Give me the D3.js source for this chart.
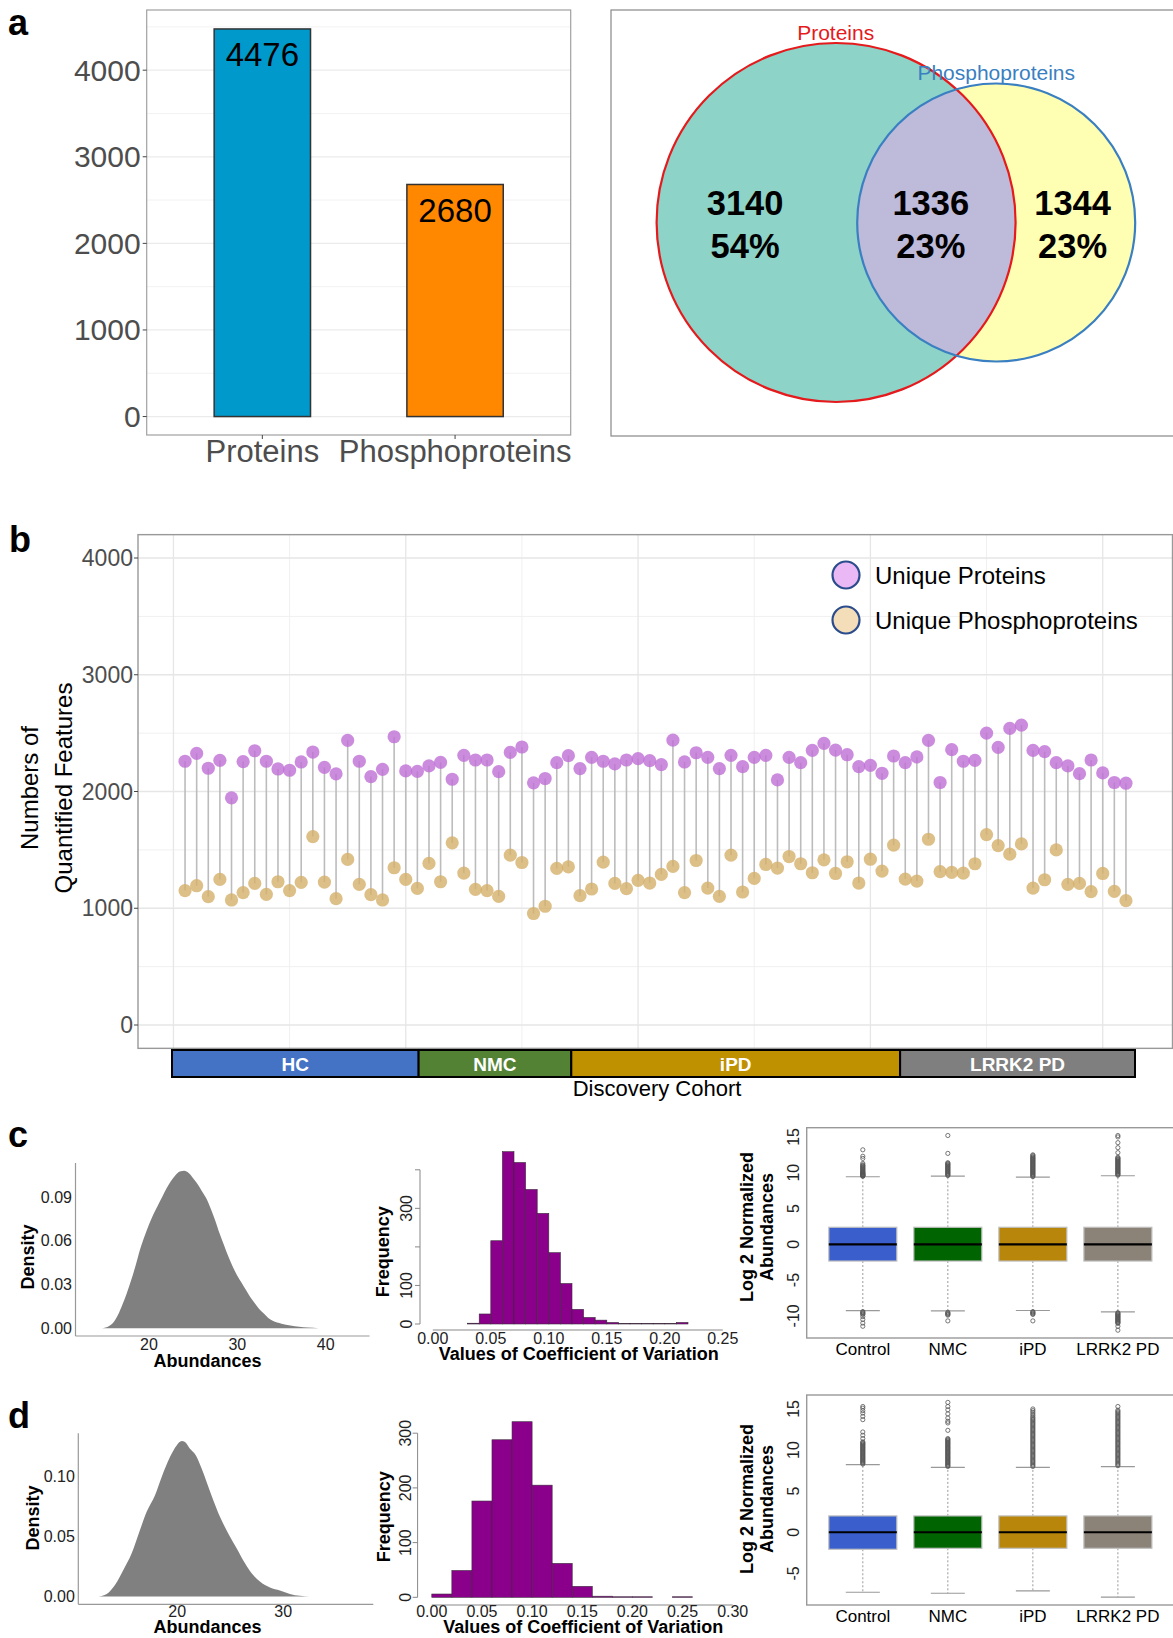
<!DOCTYPE html>
<html><head><meta charset="utf-8">
<script src="https://cdn.jsdelivr.net/npm/d3@7"></script>
<style>
body{margin:0;background:#fff}
svg{display:block}
text{font-family:"Liberation Sans",Arial,Helvetica,sans-serif}
</style>
</head><body>
<svg id="fig" width="1173" height="1638"></svg>
<script>
// ---------------- DATA ----------------
const barCategories = ["Proteins", "Phosphoproteins"];
const barValues = [4476, 2680];
const barTicks = [0, 1000, 2000, 3000, 4000];

const vennSetNames = ["Proteins", "Phosphoproteins"];
const vennCounts = [3140, 1336, 1344];
const vennPercents = ["54%", "23%", "23%"];

const proteinCounts = [2259,2327,2199,2267,1946,2256,2349,2259,2193,2182,
  2253,2338,2207,2151,2438,2259,2128,2190,2469,2176,
  2173,2219,2250,2105,2310,2270,2270,2170,2335,2381,
  2074,2111,2247,2307,2196,2293,2259,2236,2270,2281,
  2264,2230,2440,2253,2332,2293,2196,2310,2213,2293,
  2310,2099,2293,2247,2352,2412,2355,2315,2213,2224,
  2156,2304,2247,2296,2438,2077,2358,2259,2267,2500,
  2378,2540,2568,2352,2341,2247,2219,2153,2270,2159,
  2077,2071];
const phosphoCounts = [1151,1193,1099,1247,1071,1134,1213,1119,1227,1151,
  1222,1614,1224,1082,1418,1205,1116,1071,1347,1247,
  1170,1384,1227,1560,1301,1162,1151,1102,1455,1392,
  955,1017,1341,1355,1108,1165,1395,1213,1168,1239,
  1216,1290,1358,1134,1409,1173,1102,1455,1139,1256,
  1375,1344,1443,1381,1304,1415,1298,1398,1216,1420,
  1318,1540,1250,1233,1591,1313,1307,1301,1381,1631,
  1537,1463,1551,1173,1244,1500,1205,1213,1142,1298,
  1145,1065];
const featureTicks = [0, 1000, 2000, 3000, 4000];
const seriesNames = ["Unique Proteins", "Unique Phosphoproteins"];
const cohortGroups = ["HC", "NMC", "iPD", "LRRK2 PD"];
const cohortSizes = [21, 13, 28, 20];

// panel c density (abundance, density)
const densCx = [14.7,15.5,16,16.5,17,17.5,18,18.5,19,19.5,20,20.5,21,21.5,22,22.5,23,23.5,24,24.5,25,25.5,26,26.5,27,27.5,28,28.5,29,29.5,30,30.5,31,31.5,32,32.5,33,33.5,34,35,36,37,38,39.2];
const densCy = [0,0.0015,0.004,0.009,0.016,0.024,0.033,0.043,0.054,0.063,0.071,0.078,0.084,0.090,0.096,0.101,0.105,0.1075,0.108,0.1065,0.103,0.099,0.094,0.089,0.082,0.074,0.065,0.057,0.049,0.042,0.036,0.031,0.026,0.021,0.017,0.013,0.010,0.007,0.005,0.003,0.0018,0.001,0.0004,0];
const densCyTicks = [0, 0.03, 0.06, 0.09];
const densCxTicks = [20, 30, 40];

// panel d density
const densDx = [12.55,13.34,14.12,14.91,15.70,16.48,17.11,17.90,18.53,19.31,19.94,20.42,20.73,21.2,21.76,22.30,22.77,23.40,24.03,24.81,25.60,26.39,27.02,27.80,28.75,29.69,30.63,31.57,32.5,33.77,36.3];
const densDy = [0,0.0022,0.0097,0.0222,0.0361,0.0556,0.0708,0.0847,0.1,0.1167,0.1264,0.13,0.1292,0.1236,0.118,0.107,0.0958,0.0806,0.0667,0.0528,0.0403,0.0278,0.0194,0.0125,0.0075,0.005,0.0022,0.0006,0.0001,0,0];
const densDyTicks = [0, 0.05, 0.10];
const densDxTicks = [20, 30];

// panel c histogram of CV (bin starts, width 0.01)
const histCStarts = [0.03,0.04,0.05,0.06,0.07,0.08,0.09,0.10,0.11,0.12,0.13,0.14,0.15,0.16,0.17,0.18,0.19,0.20,0.21];
const histCCounts = [2,26,216,447,419,349,287,185,105,38,17,10,4,1,1,1,1,1,4];
const histCBinWidth = 0.01;
const histCxTicks = [0,0.05,0.10,0.15,0.20,0.25];
const histCyTicks = [0,100,200,300,400];
const histCyLabels = [0,100,300];

// panel d histogram of CV (bin starts, width 0.02)
const histDStarts = [0,0.02,0.04,0.06,0.08,0.10,0.12,0.14,0.16,0.18,0.20,0.22,0.24];
const histDCounts = [6,49,176,288,321,205,62,20,2,1,1,0,1];
const histDBinWidth = 0.02;
const histDxTicks = [0,0.05,0.10,0.15,0.20,0.25,0.30];
const histDyTicks = [0,100,200,300];

// boxplots
const boxGroups = ["Control", "NMC", "iPD", "LRRK2 PD"];
const boxColors = ["#3a5fcd", "#006400", "#b8860b", "#8b8378"];
// [lower whisker, Q1, median, Q3, upper whisker]
const boxStatsC = [[-9.26,-2.34,0,2.38,9.44],[-9.3,-2.34,0,2.38,9.53],[-9.25,-2.34,0,2.38,9.39],[-9.44,-2.34,0,2.38,9.58]];
const boxStatsD = [[-7.3,-2.07,0,1.99,8.23],[-7.42,-1.95,0,1.99,7.9],[-7.14,-1.95,0,1.99,7.9],[-7.9,-1.95,0,1.99,7.99]];
const boxCyTicks = [-10,-5,0,5,10,15];
const boxDyTicks = [-5,0,5,10,15];
const outliersC = [
  [9.5,9.55,9.6,9.65,9.7,9.75,9.8,9.85,9.9,10.0,10.05,10.1,10.2,10.3,10.4,10.5,10.6,10.7,10.8,10.9,11.0,11.1,11.3,12.0,12.3,13.2,-9.4,-9.5,-9.6,-9.7,-9.8,-10.1,-10.5,-11.0,-11.45],
  [9.6,9.7,9.8,9.9,10.0,10.1,10.2,10.3,10.4,10.5,10.6,10.7,10.8,10.9,11.0,11.1,11.2,11.3,11.4,12.7,15.2,-9.5,-9.6,-9.7,-9.8,-9.9,-10.7],
  [9.45,9.55,9.65,9.75,9.85,9.95,10.05,10.15,10.25,10.35,10.45,10.55,10.65,10.75,10.85,10.95,11.05,11.15,11.25,11.35,11.45,11.55,11.65,11.75,11.85,11.95,12.05,12.15,12.25,12.4,12.5,-9.4,-9.5,-9.6,-9.7,-9.8,-10.7],
  [9.65,9.75,9.85,9.95,10.05,10.15,10.25,10.35,10.45,10.55,10.65,10.75,10.85,10.95,11.05,11.15,11.25,11.35,11.45,11.55,11.65,11.75,11.85,11.95,12.05,12.15,12.8,13.5,14.2,15.0,15.2,-9.55,-9.65,-9.75,-9.85,-9.95,-10.05,-10.15,-10.25,-10.35,-10.45,-10.55,-10.65,-10.75,-10.85,-10.95,-11.05,-11.45,-12.0]
];
const outliersD = [
  [8.3,8.4,8.5,8.6,8.7,8.8,8.9,9.0,9.1,9.2,9.3,9.4,9.5,9.6,9.7,9.8,9.9,10.0,10.1,10.2,10.3,10.4,10.5,10.6,10.7,10.8,10.9,11.0,11.4,11.8,12.2,13.7,14.1,14.5,14.8,15.1,15.3],
  [8.0,8.1,8.2,8.3,8.4,8.5,8.6,8.7,8.8,8.9,9.0,9.1,9.2,9.3,9.4,9.5,9.6,9.7,9.8,9.9,10.0,10.1,10.2,10.3,10.4,10.5,10.6,10.7,10.8,10.9,11.0,11.1,11.2,11.3,11.4,12.4,13.3,13.5,13.9,14.4,14.9,15.3,15.8],
  [8.0,8.15,8.3,8.45,8.6,8.75,8.9,9.05,9.2,9.35,9.5,9.65,9.8,9.95,10.1,10.25,10.4,10.55,10.7,10.85,11.0,11.15,11.3,11.45,11.6,11.75,11.9,12.05,12.2,12.35,12.5,12.65,12.8,12.95,13.1,13.25,13.4,13.55,13.7,13.85,14.0,14.2,14.4,14.6,14.8,15.0],
  [8.1,8.25,8.4,8.55,8.7,8.85,9.0,9.15,9.3,9.45,9.6,9.75,9.9,10.05,10.2,10.35,10.5,10.65,10.8,10.95,11.1,11.25,11.4,11.55,11.7,11.85,12.0,12.15,12.3,12.45,12.6,12.75,12.9,13.05,13.2,13.35,13.5,13.65,13.8,13.95,14.1,14.25,14.4,14.55,14.7,14.85,15.3]
];

// ---------------- DRAWING ----------------
const svg = d3.select("#fig");
svg.append("rect").attr("width",1173).attr("height",1638).attr("fill","#fff");

function panelLetter(t, x, y) {
  svg.append("text").attr("x", x).attr("y", y).text(t)
    .attr("font-size", 36).attr("font-weight", "bold").attr("fill", "#000");
}
function vtext(g, x, y, t, size, weight, fill) {
  return g.append("text").attr("transform", `translate(${x},${y}) rotate(-90)`)
    .attr("text-anchor", "middle").attr("dominant-baseline", "central")
    .attr("font-size", size).attr("font-weight", weight || "normal")
    .attr("fill", fill || "#000").text(t);
}

// ===== Panel a: bar chart =====
(function () {
  const g = svg.append("g");
  const L = 146.7, R = 570.7;
  const x = d3.scaleLinear().domain([0.4, 2.6]).range([L, R]);
  const y = d3.scaleLinear().domain([-213, 4695]).range([435, 10]);
  const minor = [500, 1500, 2500, 3500, 4500];
  g.selectAll(".mn").data(minor).join("line")
    .attr("x1", L).attr("x2", R).attr("y1", d => y(d)).attr("y2", d => y(d))
    .attr("stroke", "#f2f2f2").attr("stroke-width", 1);
  g.selectAll(".mj").data(barTicks).join("line")
    .attr("x1", L).attr("x2", R).attr("y1", d => y(d)).attr("y2", d => y(d))
    .attr("stroke", "#ebebeb").attr("stroke-width", 1.3);
  g.selectAll(".bar").data(barValues).join("rect")
    .attr("x", (d, i) => x(i + 1 - 0.25)).attr("width", x(1.25) - x(0.75))
    .attr("y", d => y(d)).attr("height", d => y(0) - y(d))
    .attr("fill", (d, i) => ["#0099cc", "#ff8800"][i]).attr("stroke", "#333").attr("stroke-width", 1.5);
  g.selectAll(".bl").data(barValues).join("text")
    .attr("x", (d, i) => x(i + 1)).attr("y", d => y(d) + 37.5)
    .attr("text-anchor", "middle").attr("font-size", 33).attr("fill", "#000").text(d => d);
  g.append("rect").attr("x", L).attr("y", 10).attr("width", R - L).attr("height", 425)
    .attr("fill", "none").attr("stroke", "#a0a0a0").attr("stroke-width", 1.2);
  g.selectAll(".yt").data(barTicks).join("line")
    .attr("x1", L - 4).attr("x2", L).attr("y1", d => y(d)).attr("y2", d => y(d)).attr("stroke", "#444");
  g.selectAll(".yl").data(barTicks).join("text")
    .attr("x", L - 6).attr("y", d => y(d)).attr("text-anchor", "end").attr("dominant-baseline", "central")
    .attr("font-size", 30).attr("fill", "#4d4d4d").text(d => d);
  g.selectAll(".xt").data(barCategories).join("line")
    .attr("x1", (d, i) => x(i + 1)).attr("x2", (d, i) => x(i + 1)).attr("y1", 435).attr("y2", 439).attr("stroke", "#444");
  g.selectAll(".xl").data(barCategories).join("text")
    .attr("x", (d, i) => x(i + 1)).attr("y", 462).attr("text-anchor", "middle")
    .attr("font-size", 31).attr("fill", "#4d4d4d").text(d => d);
})();
panelLetter("a", 8, 35);

// ===== Panel a: Venn =====
(function () {
  const g = svg.append("g");
  g.append("rect").attr("x", 611).attr("y", 10).attr("width", 600).attr("height", 426)
    .attr("fill", "#fff").attr("stroke", "#888").attr("stroke-width", 1.2);
  const sets = [
    { cx: 836.1, cy: 222.5, r: 179.5, fill: "#8dd3c7", stroke: "#e41a1c" },
    { cx: 996.2, cy: 222.5, r: 139, fill: "#ffffb3", stroke: "#3a7fc1" }
  ];
  const defs = svg.append("defs");
  defs.append("clipPath").attr("id", "clipP").append("circle")
    .attr("cx", sets[0].cx).attr("cy", sets[0].cy).attr("r", sets[0].r);
  g.selectAll(".vf").data(sets).join("circle")
    .attr("cx", d => d.cx).attr("cy", d => d.cy).attr("r", d => d.r)
    .attr("fill", d => d.fill);
  g.append("circle").attr("clip-path", "url(#clipP)")
    .attr("cx", sets[1].cx).attr("cy", sets[1].cy).attr("r", sets[1].r)
    .attr("fill", "#bebada");
  g.selectAll(".vs").data(sets).join("circle")
    .attr("cx", d => d.cx).attr("cy", d => d.cy).attr("r", d => d.r)
    .attr("fill", "none").attr("stroke", d => d.stroke).attr("stroke-width", 2.2);
  const labelPos = [[835.7, 40], [996.2, 80]];
  g.selectAll(".vn").data(vennSetNames).join("text")
    .attr("x", (d, i) => labelPos[i][0]).attr("y", (d, i) => labelPos[i][1])
    .attr("text-anchor", "middle").attr("font-size", 21)
    .attr("fill", (d, i) => sets[i].stroke).text(d => d);
  const cx = [745.1, 930.8, 1072.6];
  g.selectAll(".vc").data(vennCounts).join("text")
    .attr("x", (d, i) => cx[i]).attr("y", 215).attr("text-anchor", "middle")
    .attr("font-size", 34.5).attr("font-weight", "bold").text(d => d);
  g.selectAll(".vp").data(vennPercents).join("text")
    .attr("x", (d, i) => cx[i]).attr("y", 258).attr("text-anchor", "middle")
    .attr("font-size", 34.5).attr("font-weight", "bold").text(d => d);
})();

// ===== Panel b =====
(function () {
  const g = svg.append("g");
  const L = 138, R = 1172.5, T = 534.65, B = 1048.35;
  const x = d3.scaleLinear().domain([-3.05, 86.05]).range([L, 1173]);
  const y = d3.scaleLinear().domain([-200, 4200]).range([B, T]);
  const yMinor = [500, 1500, 2500, 3500];
  const xMajor = [0, 20, 40, 60, 80], xMinor = [10, 30, 50, 70];
  g.selectAll(".hm").data(yMinor).join("line").attr("x1", L).attr("x2", R)
    .attr("y1", d => y(d)).attr("y2", d => y(d)).attr("stroke", "#f0f0f0").attr("stroke-width", 1);
  g.selectAll(".vm").data(xMinor).join("line").attr("y1", T).attr("y2", B)
    .attr("x1", d => x(d)).attr("x2", d => x(d)).attr("stroke", "#f0f0f0").attr("stroke-width", 1);
  g.selectAll(".hM").data(featureTicks).join("line").attr("x1", L).attr("x2", R)
    .attr("y1", d => y(d)).attr("y2", d => y(d)).attr("stroke", "#e6e6e6").attr("stroke-width", 1.3);
  g.selectAll(".vM").data(xMajor).join("line").attr("y1", T).attr("y2", B)
    .attr("x1", d => x(d)).attr("x2", d => x(d)).attr("stroke", "#e6e6e6").attr("stroke-width", 1.3);
  const idx = d3.range(proteinCounts.length);
  g.selectAll(".stem").data(idx).join("line")
    .attr("x1", i => x(i + 1)).attr("x2", i => x(i + 1))
    .attr("y1", i => y(phosphoCounts[i])).attr("y2", i => y(proteinCounts[i]))
    .attr("stroke", "#bcbcbc").attr("stroke-width", 1.6);
  g.selectAll(".pp").data(phosphoCounts).join("circle")
    .attr("cx", (d, i) => x(i + 1)).attr("cy", d => y(d)).attr("r", 6.6)
    .attr("fill", "#d4af6a").attr("fill-opacity", 0.8);
  g.selectAll(".pr").data(proteinCounts).join("circle")
    .attr("cx", (d, i) => x(i + 1)).attr("cy", d => y(d)).attr("r", 6.6)
    .attr("fill", "#bf6fd6").attr("fill-opacity", 0.8);
  g.append("rect").attr("x", L).attr("y", T).attr("width", R - L).attr("height", B - T)
    .attr("fill", "none").attr("stroke", "#999").attr("stroke-width", 1.4);
  g.selectAll(".yt").data(featureTicks).join("line").attr("x1", L - 4).attr("x2", L)
    .attr("y1", d => y(d)).attr("y2", d => y(d)).attr("stroke", "#444");
  g.selectAll(".yl").data(featureTicks).join("text").attr("x", L - 5).attr("y", d => y(d))
    .attr("text-anchor", "end").attr("dominant-baseline", "central")
    .attr("font-size", 23).attr("fill", "#4d4d4d").text(d => d);
  vtext(g, 29, 788, "Numbers of", 24);
  vtext(g, 63, 788, "Quantified Features", 24);
  // legend
  const legFill = ["#eab8f5", "#f3deb9"];
  const legY = [575, 620];
  g.selectAll(".lk").data(seriesNames).join("circle")
    .attr("cx", 846).attr("cy", (d, i) => legY[i]).attr("r", 13.5)
    .attr("fill", (d, i) => legFill[i]).attr("stroke", "#2b4c8c").attr("stroke-width", 2.2);
  g.selectAll(".lt").data(seriesNames).join("text")
    .attr("x", 875).attr("y", (d, i) => legY[i]).attr("dominant-baseline", "central")
    .attr("font-size", 24).attr("fill", "#000").text(d => d);
  // cohort bar
  const total = d3.sum(cohortSizes);
  const xc = d3.scaleLinear().domain([0, total]).range([172, 1135]);
  const starts = d3.cumsum([0].concat(cohortSizes.slice(0, -1)));
  const cColors = ["#4472c4", "#548235", "#bf9000", "#7f7f7f"];
  g.selectAll(".cb").data(cohortGroups).join("rect")
    .attr("x", (d, i) => xc(starts[i])).attr("width", (d, i) => xc(starts[i] + cohortSizes[i]) - xc(starts[i]))
    .attr("y", 1050).attr("height", 27)
    .attr("fill", (d, i) => cColors[i]).attr("stroke", "#000").attr("stroke-width", 2);
  g.selectAll(".ct").data(cohortGroups).join("text")
    .attr("x", (d, i) => xc(starts[i] + cohortSizes[i] / 2)).attr("y", 1064)
    .attr("text-anchor", "middle").attr("dominant-baseline", "central")
    .attr("font-size", 19).attr("font-weight", "bold").attr("fill", "#fff").text(d => d);
  g.append("text").attr("x", 657).attr("y", 1096).attr("text-anchor", "middle")
    .attr("font-size", 22).attr("fill", "#000").text("Discovery Cohort");
})();
panelLetter("b", 9, 552);

// ===== density helper =====
function densityPanel(xs, ys, xDom, xRange, yDom, yRange, yTicks, xTicks, yFmt, xLabY, titleY, densTitle) {
  const g = svg.append("g");
  const x = d3.scaleLinear().domain(xDom).range(xRange);
  const y = d3.scaleLinear().domain(yDom).range(yRange);
  const pts = xs.map((v, i) => [v, ys[i]]);
  const area = d3.area().x(d => x(d[0])).y0(y(0)).y1(d => y(d[1])).curve(d3.curveMonotoneX);
  g.append("path").datum(pts).attr("d", area).attr("fill", "#808080");
  g.append("line").attr("x1", xRange[0]).attr("x2", xRange[0]).attr("y1", yRange[0]).attr("y2", yRange[1])
    .attr("stroke", "#999").attr("stroke-width", 1.2);
  g.append("line").attr("x1", xRange[0]).attr("x2", xRange[1]).attr("y1", yRange[0]).attr("y2", yRange[0])
    .attr("stroke", "#999").attr("stroke-width", 1.2);
  g.selectAll(".yl").data(yTicks).join("text").attr("x", xRange[0] - 3.5).attr("y", d => y(d))
    .attr("text-anchor", "end").attr("dominant-baseline", "central")
    .attr("font-size", 16).attr("fill", "#222").text(d => d3.format(yFmt)(d));
  g.selectAll(".xl").data(xTicks).join("text").attr("x", d => x(d)).attr("y", xLabY)
    .attr("text-anchor", "middle").attr("font-size", 16).attr("fill", "#222").text(d => d);
  g.append("text").attr("x", 207.6).attr("y", titleY).attr("text-anchor", "middle")
    .attr("font-size", 18).attr("font-weight", "bold").text("Abundances");
  vtext(g, densTitle[0], densTitle[1], "Density", 18, "bold");
}

function histPanel(starts, counts, bw, xDom, xRange, yDom, yRange, axisX, axisY, xTicks, yTicks, yLabels, xLabY, titleY, freqPos, yLabX) {
  const g = svg.append("g");
  const x = d3.scaleLinear().domain(xDom).range(xRange);
  const y = d3.scaleLinear().domain(yDom).range(yRange);
  g.selectAll(".hb").data(counts).join("rect")
    .attr("x", (d, i) => x(starts[i])).attr("width", (d, i) => x(starts[i] + bw) - x(starts[i]))
    .attr("y", d => y(d)).attr("height", d => y(0) - y(d))
    .attr("fill", "#8b008b").attr("stroke", "#3a2a3a").attr("stroke-width", 0.6);
  g.append("line").attr("x1", axisX).attr("x2", axisX)
    .attr("y1", y(yTicks[0])).attr("y2", y(yTicks[yTicks.length - 1])).attr("stroke", "#888").attr("stroke-width", 1);
  g.selectAll(".yt").data(yTicks).join("line").attr("x1", axisX - 5).attr("x2", axisX)
    .attr("y1", d => y(d)).attr("y2", d => y(d)).attr("stroke", "#888");
  g.selectAll(".yl").data(yLabels).join("text")
    .attr("transform", d => `translate(${yLabX},${y(d)}) rotate(-90)`)
    .attr("text-anchor", "middle").attr("dominant-baseline", "central")
    .attr("font-size", 16).attr("fill", "#222").text(d => d);
  g.append("line").attr("x1", x(xTicks[0])).attr("x2", x(xTicks[xTicks.length - 1]))
    .attr("y1", axisY).attr("y2", axisY).attr("stroke", "#888").attr("stroke-width", 1);
  g.selectAll(".xl").data(xTicks).join("text").attr("x", d => x(d)).attr("y", xLabY)
    .attr("text-anchor", "middle").attr("font-size", 16).attr("fill", "#222").text(d => d3.format(".2f")(d));
  g.append("text").attr("x", (x(xTicks[0]) + x(xTicks[xTicks.length - 1])) / 2 + 1).attr("y", titleY)
    .attr("text-anchor", "middle").attr("font-size", 18).attr("font-weight", "bold")
    .text("Values of Coefficient of Variation");
  vtext(g, freqPos[0], freqPos[1], "Frequency", 18, "bold");
}

function boxPanel(stats, outs, yDom, yRange, yTicks, labY, titleY) {
  const g = svg.append("g");
  const x = d3.scaleLinear().domain([0.34, 4.66]).range([806.7, 1174]);
  const y = d3.scaleLinear().domain(yDom).range(yRange);
  const hw = (x(1.4) - x(0.6)) / 2, cw = hw / 2;
  stats.forEach((s, i) => {
    const cx = x(i + 1);
    g.append("line").attr("x1", cx).attr("x2", cx).attr("y1", y(s[3])).attr("y2", y(s[4]))
      .attr("stroke", "#999").attr("stroke-dasharray", "2,2");
    g.append("line").attr("x1", cx).attr("x2", cx).attr("y1", y(s[1])).attr("y2", y(s[0]))
      .attr("stroke", "#999").attr("stroke-dasharray", "2,2");
    [s[0], s[4]].forEach(v => g.append("line").attr("x1", cx - cw).attr("x2", cx + cw)
      .attr("y1", y(v)).attr("y2", y(v)).attr("stroke", "#999").attr("stroke-width", 1.2));
    g.append("rect").attr("x", cx - hw).attr("width", 2 * hw).attr("y", y(s[3])).attr("height", y(s[1]) - y(s[3]))
      .attr("fill", boxColors[i]).attr("stroke", "#c0c0c0").attr("stroke-width", 1.2);
    g.append("line").attr("x1", cx - hw).attr("x2", cx + hw).attr("y1", y(s[2])).attr("y2", y(s[2]))
      .attr("stroke", "#000").attr("stroke-width", 2.2);
    g.selectAll(null).data(outs[i]).join("circle").attr("cx", cx).attr("cy", d => y(d)).attr("r", 2.1)
      .attr("fill", "none").attr("stroke", "#555").attr("stroke-width", 0.8);
  });
  g.append("rect").attr("x", 806.7).attr("y", yRange[1]).attr("width", 400).attr("height", yRange[0] - yRange[1])
    .attr("fill", "none").attr("stroke", "#999").attr("stroke-width", 1.4);
  g.selectAll(".yl").data(yTicks).join("text")
    .attr("transform", d => `translate(793,${y(d)}) rotate(-90)`)
    .attr("text-anchor", "middle").attr("dominant-baseline", "central")
    .attr("font-size", 16).attr("fill", "#222").text(d => d);
  g.selectAll(".xl").data(boxGroups).join("text").attr("x", (d, i) => x(i + 1)).attr("y", labY)
    .attr("text-anchor", "middle").attr("font-size", 17).attr("fill", "#000").text(d => d);
  vtext(g, 746.7, titleY, "Log 2 Normalized", 18, "bold");
  vtext(g, 766.7, titleY, "Abundances", 18, "bold");
}

// ===== Panel c =====
densityPanel(densCx, densCy, [11.7, 44.95], [75.5, 369.5], [-0.0054, 0.1134], [1336, 1163],
  densCyTicks, densCxTicks, ".2f", 1350, 1367, [28, 1257]);
histPanel(histCStarts, histCCounts, histCBinWidth, [0, 0.25], [432.8, 722.8], [0, 400], [1324, 1169.8],
  420, 1330, histCxTicks, histCyTicks, histCyLabels, 1343.5, 1360, [383, 1251.7], 406);
boxPanel(boxStatsC, outliersC, [-13.09, 16.29], [1338, 1127.7], boxCyTicks, 1355, 1227);
panelLetter("c", 8, 1147);

// ===== Panel d =====
densityPanel(densDx, densDy, [10.66, 38.5], [78.3, 373.3], [-0.0065, 0.1365], [1604.3, 1433.3],
  densDyTicks, densDxTicks, ".2f", 1617, 1633, [33, 1518]);
histPanel(histDStarts, histDCounts, histDBinWidth, [0, 0.30], [431.8, 732.7], [0, 300], [1597.3, 1433.2],
  417.6, 1605, histDxTicks, histDyTicks, histDyTicks, 1617, 1633, [384, 1516.7], 405);
boxPanel(boxStatsD, outliersD, [-8.85, 16.7], [1605, 1395], boxDyTicks, 1621.7, 1499);
panelLetter("d", 8, 1428);
</script>
</body></html>
